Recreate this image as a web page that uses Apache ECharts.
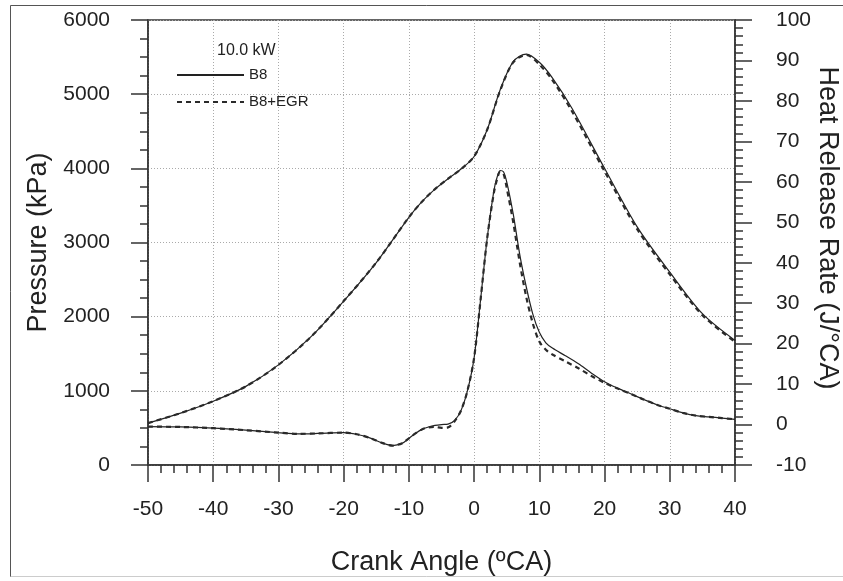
<!DOCTYPE html>
<html>
<head>
<meta charset="utf-8">
<script src="https://cdn.jsdelivr.net/npm/echarts@6/dist/echarts.min.js"></script>
<style>
  html, body { margin: 0; padding: 0; background: #fff; }
  #chart { width: 843px; height: 581px; }
</style>
</head>
<body>
<div id="chart"></div>
<script>
const legendNames = ['B8', 'B8+EGR']

// cylinder pressure (kPa) vs crank angle
const pressureAngles = [-50, -45, -40, -35, -30, -25, -20, -15, -10, -8, -6, -4, -2, 0, 2, 4, 6, 8, 10, 12, 15, 20, 25, 30, 35, 40]
const pressureB8 = [565, 700, 860, 1060, 1350, 1730, 2210, 2730, 3340, 3550, 3720, 3860, 3990, 4160, 4520, 5060, 5440, 5540, 5430, 5220, 4810, 4000, 3210, 2600, 2040, 1680]
const pressureEGR = [565, 700, 860, 1060, 1350, 1730, 2210, 2730, 3340, 3550, 3720, 3860, 3990, 4160, 4520, 5050, 5430, 5530, 5400, 5190, 4770, 3960, 3180, 2570, 2020, 1660]

// heat release rate (J/°CA) vs crank angle
const hrrAngles = [-50, -45, -40, -35, -30, -27, -24, -20, -18, -16, -14, -12.5, -11, -10, -9, -8, -7, -6, -5, -4, -3, -2, -1, 0, 1, 2, 3, 3.5, 4, 4.5, 5, 6, 7, 8, 9, 10, 11, 12, 14, 16, 18, 20, 22, 24, 26, 28, 30, 32, 34, 36, 38, 40]
const hrrB8 = [-0.5, -0.6, -0.9, -1.4, -2.0, -2.3, -2.2, -2.0, -2.4, -3.3, -4.6, -5.2, -4.6, -3.4, -2.2, -1.2, -0.6, -0.2, 0, 0.1, 1.0, 3.5, 8.5, 16.5, 31, 46, 57.5, 61, 62.8, 62.5, 60, 52, 42, 34, 27.3, 22.8, 20.2, 18.9, 17.0, 15.0, 12.7, 10.6, 9.0, 7.6, 6.2, 4.9, 3.9, 2.9, 2.2, 1.9, 1.6, 1.3]
const hrrEGR = [-0.5, -0.6, -0.9, -1.4, -2.0, -2.3, -2.2, -2.0, -2.4, -3.3, -4.6, -5.2, -4.6, -3.4, -2.2, -1.2, -0.7, -0.6, -0.8, -0.7, 0.8, 3.5, 8.5, 16.5, 31, 46, 57, 60.5, 62.5, 62, 58.5, 50, 40, 31.5, 25, 20.5, 18.5, 17.3, 15.6, 13.9, 12.0, 10.3, 8.9, 7.6, 6.2, 4.9, 3.9, 2.9, 2.2, 1.9, 1.6, 1.3]

const zip = (xs, ys) => xs.map((x, i) => [x, ys[i]])

const font = '"Liberation Sans", Arial, sans-serif'
const ink = '#222'

const solid = { color: ink, width: 1.2, type: 'solid' }
const dashed = { color: '#2a2a2a', width: 2.2, type: [5, 4] }

function lineSeries(name, yAxisIndex, data, lineStyle) {
  return {
    name,
    type: 'line',
    yAxisIndex,
    data,
    symbol: 'none',
    smooth: 0.3,
    lineStyle,
    itemStyle: { color: ink },
    z: lineStyle.type === 'solid' ? 2 : 3,
    animation: false,
  }
}

const axisLine = { show: true, onZero: false, lineStyle: { color: '#333', width: 1.5 } }
const majorTick = { show: true, inside: false, length: 17, lineStyle: { color: '#333', width: 1.5 } }
const minor = (n) => ({ show: true, splitNumber: n, length: 8, lineStyle: { color: '#333', width: 1.5 } })
const gridLine = { show: true, lineStyle: { color: '#aaa', width: 1, type: [1, 2] } }
const plain = (v) => String(v)

const chart = echarts.init(document.getElementById('chart'))

chart.setOption({
  backgroundColor: '#fff',
  textStyle: { fontFamily: font },
  grid: {
    left: 148,
    right: 108,
    top: 20,
    bottom: 112,
    show: true,
    borderColor: '#333',
    borderWidth: 1.5,
  },
  title: {
    text: '10.0 kW',
    left: 212,
    top: 38,
    textStyle: { fontFamily: font, fontSize: 16, fontWeight: 'normal', color: ink },
  },
  legend: {
    data: legendNames,
    orient: 'vertical',
    left: 171,
    top: 62,
    itemWidth: 67,
    itemHeight: 16,
    itemGap: 11,
    itemStyle: { color: 'rgba(0,0,0,0)', borderWidth: 0, opacity: 0 },
    textStyle: { fontFamily: font, fontSize: 15, color: ink, lineHeight: 16 },
  },
  xAxis: {
    type: 'value',
    min: -50,
    max: 40,
    interval: 10,
    name: 'Crank Angle (ºCA)',
    nameLocation: 'middle',
    nameGap: 84,
    nameTextStyle: { fontFamily: font, fontSize: 27, color: ink },
    axisLine,
    axisTick: majorTick,
    minorTick: minor(5),
    axisLabel: { margin: 34, fontFamily: font, fontSize: 21, color: ink, formatter: plain },
    splitLine: gridLine,
  },
  yAxis: [
    {
      type: 'value',
      min: 0,
      max: 6000,
      interval: 1000,
      position: 'left',
      name: 'Pressure (kPa)',
      nameLocation: 'middle',
      nameGap: 87,
      nameTextStyle: { fontFamily: font, fontSize: 27, color: ink },
      axisLine,
      axisTick: majorTick,
      minorTick: minor(4),
      axisLabel: { margin: 38, fontFamily: font, fontSize: 21, color: ink, formatter: plain },
      splitLine: gridLine,
    },
    {
      type: 'value',
      min: -10,
      max: 100,
      interval: 10,
      position: 'right',
      axisLine,
      axisTick: majorTick,
      minorTick: minor(5),
      axisLabel: { margin: 41, fontFamily: font, fontSize: 21, color: ink, formatter: plain },
      splitLine: { show: false },
    },
  ],
  graphic: [
    {
      type: 'text',
      x: 827,
      y: 228,
      rotation: -Math.PI / 2,
      style: {
        text: 'Heat Release Rate (J/°CA)',
        fontFamily: font,
        fontSize: 27,
        fill: ink,
        align: 'center',
        verticalAlign: 'middle',
      },
    },
    {
      type: 'polyline',
      shape: { points: [[10.5, 577], [10.5, 5.5], [843, 5.5]] },
      style: { stroke: '#555', lineWidth: 1, fill: null },
    },
    {
      type: 'line',
      shape: { x1: 10.5, y1: 576.5, x2: 843, y2: 576.5 },
      style: { stroke: '#ccc', lineWidth: 1 },
    },
  ],
  series: [
    lineSeries(legendNames[0], 0, zip(pressureAngles, pressureB8), solid),
    lineSeries(legendNames[0], 1, zip(hrrAngles, hrrB8), solid),
    lineSeries(legendNames[1], 0, zip(pressureAngles, pressureEGR), dashed),
    lineSeries(legendNames[1], 1, zip(hrrAngles, hrrEGR), dashed),
  ],
})
</script>
</body>
</html>
